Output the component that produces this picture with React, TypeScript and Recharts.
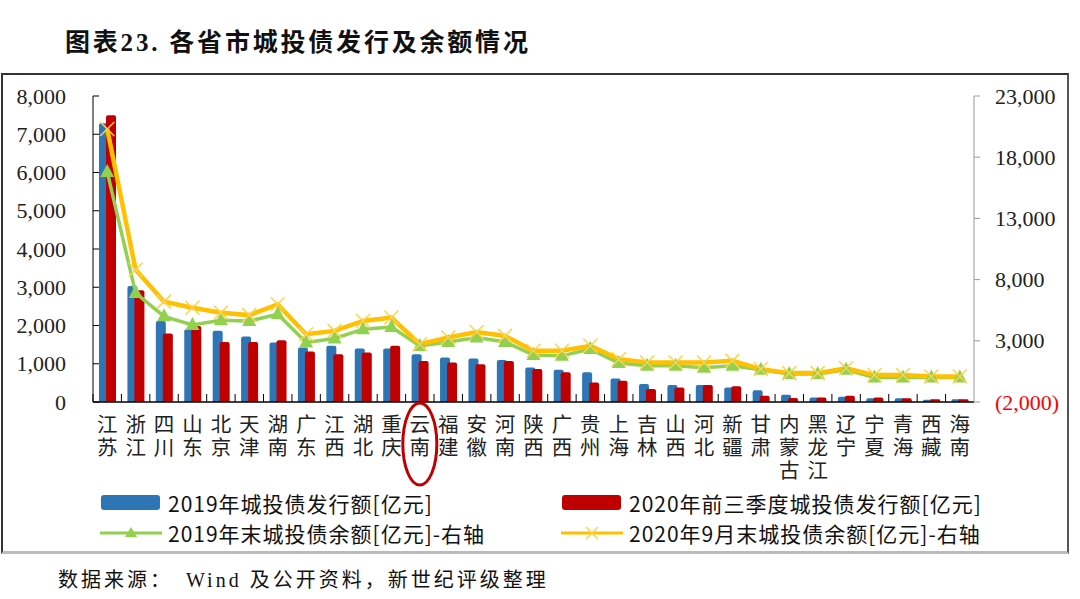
import { Bar, ComposedChart, Line, XAxis, YAxis } from "recharts";

const categories = [
  "江苏", "浙江", "四川", "山东", "北京", "天津", "湖南", "广东", "江西", "湖北", "重庆",
  "云南", "福建", "安徽", "河南", "陕西", "广西", "贵州", "上海", "吉林", "山西", "河北",
  "新疆", "甘肃", "内蒙古", "黑龙江", "辽宁", "宁夏", "青海", "西藏", "海南",
];

// 2019年城投债发行额 (left axis)
const issue2019 = [
  7290, 3030, 2120, 1900, 1860, 1710, 1555, 1425, 1470, 1400, 1400,
  1250, 1165, 1140, 1095, 900, 840, 775, 615, 470, 445, 445,
  380, 310, 190, 120, 140, 95, 95, 60, 70,
];

// 2020年前三季度城投债发行额 (left axis)
const issue2020 = [
  7500, 2920, 1790, 1990, 1570, 1570, 1615, 1320, 1250, 1295, 1470,
  1075, 1035, 990, 1075, 860, 775, 510, 555, 340, 380, 445,
  410, 165, 105, 120, 165, 120, 95, 70, 70,
];

// 2019年末城投债余额 (right axis)
const balance2019 = [
  16800, 6900, 5000, 4300, 4680, 4620, 5170, 2860, 3190, 3950, 4130,
  2580, 2910, 3270, 2910, 1830, 1770, 2320, 1180, 960, 960, 800,
  960, 630, 280, 280, 630, 10, 10, 0, 0,
];

// 2020年9月末城投债余额 (right axis)
const balance2020 = [
  20300, 8800, 6200, 5700, 5300, 5100, 5980, 3540, 3810, 4620, 4900,
  2720, 3270, 3720, 3400, 2180, 2180, 2590, 1500, 1230, 1230, 1230,
  1360, 690, 360, 360, 750, 200, 200, 90, 90,
];

const leftTicks = [0, 1000, 2000, 3000, 4000, 5000, 6000, 7000, 8000];
const rightTicks = [-2000, 3000, 8000, 13000, 18000, 23000];
const highlighted = "云南";

const data = categories.map((name, i) => ({
  name,
  issue2019: issue2019[i],
  issue2020: issue2020[i],
  balance2019: balance2019[i],
  balance2020: balance2020[i],
}));

const BLUE = "#2E75B6";
const RED = "#C00000";
const GREEN = "#92D050";
const YELLOW = "#FFC000";
const SERIF = '"Liberation Serif", "Times New Roman", serif';
const CJK = '"Noto Sans CJK SC", "Noto Sans", sans-serif';

const fmt = (v: number) => {
  const s = Math.abs(v).toLocaleString("en-US");
  return v < 0 ? `(${s})` : s;
};

function LeftTick(props: any) {
  const { x, y, payload } = props;
  return (
    <g>
      <line x1={x} x2={x + 6} y1={y} y2={y} stroke="#000" />
      <text x={x - 27} y={y} textAnchor="end" dominantBaseline="central" fontSize={22} fontFamily={SERIF} fill="#222">
        {fmt(payload.value)}
      </text>
    </g>
  );
}

function RightTick(props: any) {
  const { x, y, payload } = props;
  return (
    <text x={x} y={y} textAnchor="start" dominantBaseline="central" fontSize={22} fontFamily={SERIF} fill={payload.value < 0 ? "#FF0000" : "#222"}>
      {fmt(payload.value)}
    </text>
  );
}

// vertical category label (top-to-bottom writing), with Excel-style boundary ticks
function CategoryTick(props: any) {
  const { x, y, payload } = props;
  const half = payload.offset || 14.2;
  return (
    <g>
      <line x1={x - half} x2={x - half} y1={y - 8} y2={y} stroke="#000" />
      <text
        x={x}
        y={y + 12}
        fontSize={20.5}
        fontFamily={CJK}
        fill="#222"
        letterSpacing={2.5}
        style={{ writingMode: "vertical-rl" }}
      >
        {payload.value}
      </text>
      {payload.value === highlighted && (
        <ellipse cx={x} cy={y + 42} rx={17} ry={41} fill="none" stroke={RED} strokeWidth={3} />
      )}
    </g>
  );
}

function TriangleDot(props: any) {
  const { cx, cy, index } = props;
  if (cx == null || cy == null) return <g key={`t-${index}`} />;
  return <polygon key={`t-${index}`} points={`${cx},${cy - 8} ${cx - 7},${cy + 5} ${cx + 7},${cy + 5}`} fill={GREEN} />;
}

function CrossDot(props: any) {
  const { cx, cy, index } = props;
  if (cx == null || cy == null) return <g key={`x-${index}`} />;
  const r = 7;
  return (
    <g key={`x-${index}`} stroke="#FFD24D" strokeWidth={1.5}>
      <line x1={cx - r} y1={cy - r} x2={cx + r} y2={cy + r} />
      <line x1={cx - r} y1={cy + r} x2={cx + r} y2={cy - r} />
    </g>
  );
}

function LegendItem({ kind, color, label }: { kind: "bar" | "tri" | "cross"; color: string; label: string }) {
  return (
    <div style={{ display: "flex", alignItems: "center", height: 30 }}>
      <svg width={62} height={20} style={{ marginRight: 6 }}>
        {kind === "bar" && <rect x={1} y={2} width={59} height={15} rx={3} fill={color} />}
        {kind !== "bar" && <line x1={0} x2={62} y1={10} y2={10} stroke={color} strokeWidth={3} />}
        {kind === "tri" && <polygon points="31,4 25,14 37,14" fill={color} />}
        {kind === "cross" && (
          <g stroke="#FFD24D" strokeWidth={1.5}>
            <line x1={25} y1={4} x2={37} y2={16} />
            <line x1={25} y1={16} x2={37} y2={4} />
          </g>
        )}
      </svg>
      <span style={{ fontFamily: CJK, fontSize: 21, letterSpacing: 1, color: "#111", whiteSpace: "nowrap" }}>{label}</span>
    </div>
  );
}

export default function App() {
  return (
    <div style={{ position: "absolute", left: 0, top: 0, width: 1080, height: 599, background: "#fff", overflow: "hidden" }}>
      <div
        style={{
          position: "absolute",
          left: 65,
          top: 22,
          fontFamily: `${SERIF}, ${CJK}`,
          fontSize: 25,
          fontWeight: 700,
          letterSpacing: 2.8,
          color: "#111",
          whiteSpace: "nowrap",
        }}
      >
        图表23. 各省市城投债发行及余额情况
      </div>

      <div
        style={{
          position: "absolute",
          left: 1,
          top: 73,
          width: 1064,
          height: 476,
          borderTop: "2px solid #333",
          borderLeft: "2px solid #333",
          borderRight: "2px solid #555",
          borderBottom: "3px solid #bbb",
        }}
      />

      <div style={{ position: "absolute", left: 0, top: 0 }}>
        <ComposedChart
          width={1080}
          height={599}
          data={data}
          margin={{ top: 96, right: 0, bottom: 97, left: 0 }}
          barGap={-3}
          barCategoryGap={0}
        >
          <XAxis
            dataKey="name"
            interval={0}
            height={100}
            tickSize={0}
            tickMargin={0}
            tickLine={false}
            axisLine={{ stroke: "#000", strokeWidth: 1.5 }}
            tick={<CategoryTick />}
          />
          <YAxis
            yAxisId="left"
            width={93}
            domain={[0, 8000]}
            ticks={leftTicks}
            interval={0}
            tickSize={0}
            tickMargin={0}
            tickLine={false}
            axisLine={{ stroke: "#000" }}
            tick={<LeftTick />}
          />
          <YAxis
            yAxisId="right"
            orientation="right"
            width={106}
            domain={[-2000, 23000]}
            ticks={rightTicks}
            interval={0}
            tickSize={6}
            tickMargin={15}
            tickLine={{ stroke: "#999" }}
            axisLine={{ stroke: "#999" }}
            tick={<RightTick />}
          />
          <Bar yAxisId="left" dataKey="issue2019" fill={BLUE} barSize={10} radius={[2, 2, 0, 0]} isAnimationActive={false} />
          <Bar yAxisId="left" dataKey="issue2020" fill={RED} barSize={10} radius={[2, 2, 0, 0]} isAnimationActive={false} />
          <Line
            yAxisId="right"
            type="linear"
            dataKey="balance2019"
            stroke={GREEN}
            strokeWidth={3.5}
            dot={(p: any) => <TriangleDot {...p} key={`t-${p.index}`} />}
            activeDot={false}
            isAnimationActive={false}
          />
          <Line
            yAxisId="right"
            type="linear"
            dataKey="balance2020"
            stroke={YELLOW}
            strokeWidth={4.5}
            dot={(p: any) => <CrossDot {...p} key={`x-${p.index}`} />}
            activeDot={false}
            isAnimationActive={false}
          />
        </ComposedChart>
      </div>

      <div style={{ position: "absolute", left: 100, top: 488 }}>
        <LegendItem kind="bar" color={BLUE} label="2019年城投债发行额[亿元]" />
        <LegendItem kind="tri" color={GREEN} label="2019年末城投债余额[亿元]-右轴" />
      </div>
      <div style={{ position: "absolute", left: 561, top: 488 }}>
        <LegendItem kind="bar" color={RED} label="2020年前三季度城投债发行额[亿元]" />
        <LegendItem kind="cross" color={YELLOW} label="2020年9月末城投债余额[亿元]-右轴" />
      </div>

      <div
        style={{
          position: "absolute",
          left: 58,
          top: 564,
          fontFamily: `${SERIF}, ${CJK}`,
          fontSize: 20,
          letterSpacing: 3,
          color: "#111",
          whiteSpace: "nowrap",
        }}
      >
        数据来源：　Wind 及公开资料，新世纪评级整理
      </div>
    </div>
  );
}
